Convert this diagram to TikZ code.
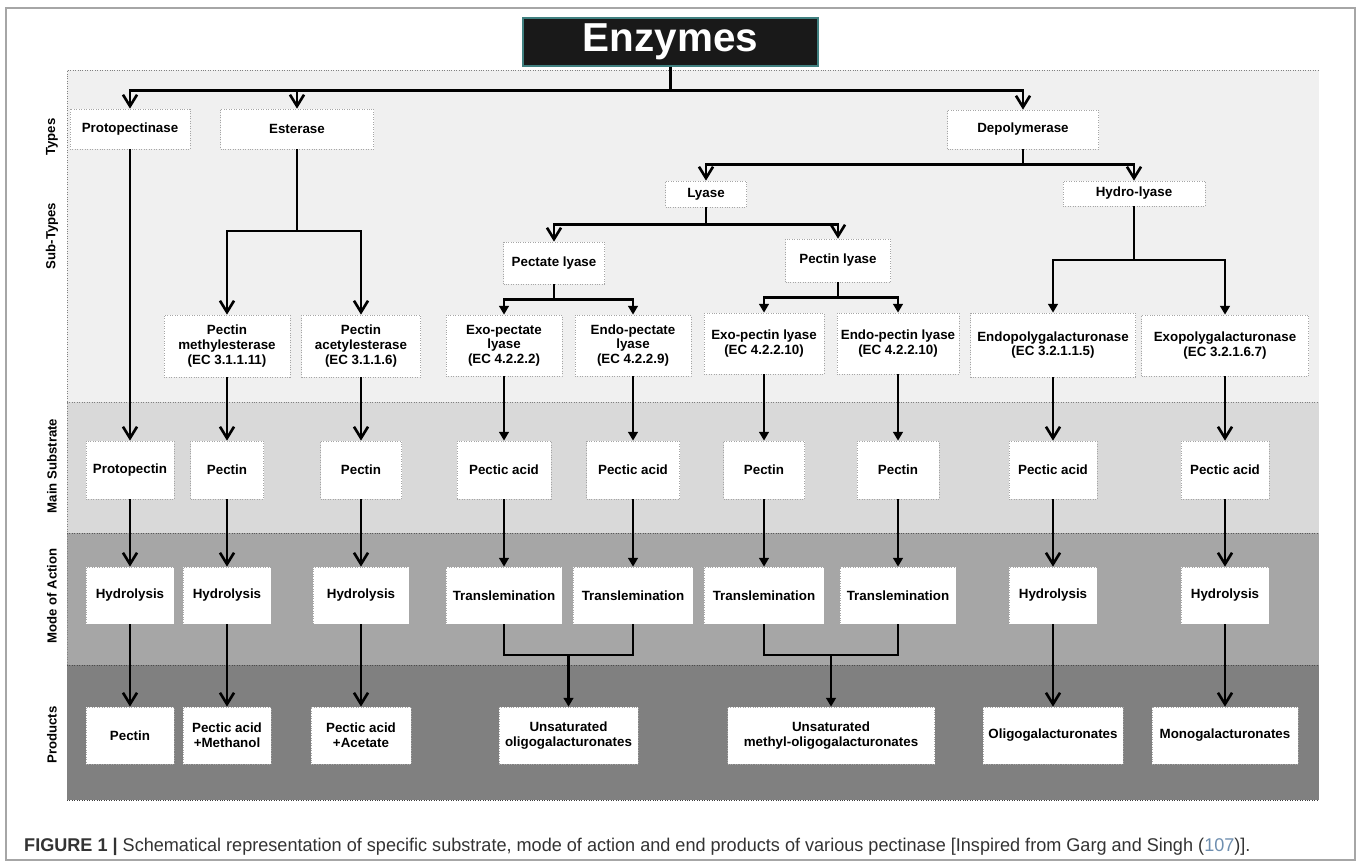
\documentclass[tikz,border=0pt]{standalone}
\usepackage{fontspec}
\setmainfont{Liberation Sans}
\newfontfamily\capfont[FakeStretch=0.98]{Liberation Sans}
\usepackage{xcolor}
\usetikzlibrary{arrows.meta}

\definecolor{bandA}{HTML}{F0F0F0}
\definecolor{bandB}{HTML}{D9D9D9}
\definecolor{bandC}{HTML}{A6A6A6}
\definecolor{bandD}{HTML}{808080}
\definecolor{refblue}{HTML}{6F8FB0}

\begin{document}
\begin{tikzpicture}[x=0.2mm, y=-0.2mm,
    bx/.style={draw=gray!70, densely dotted, fill=white, align=center, inner sep=1pt,
      font=\bfseries\fontsize{7.6}{8.3}\selectfont},
    ln/.style={line width=1.6pt, solid, line join=miter},
    arr/.style={ln, -{Straight Barb[length=6.5pt, width=8pt, line width=1.5pt]}},
    arrs/.style={ln, -{Triangle[length=5pt, width=5.5pt]}},
    lbl/.style={rotate=90, font=\bfseries\fontsize{7.5}{9}\selectfont}]
  \useasboundingbox (0,0) rectangle (1358,866);
  \draw[gray!70, line width=0.8pt] (6,8) rectangle (1355,860);

  % bands
  \fill[bandA] (67,70) rectangle (1319,402);
  \fill[bandB] (67,402) rectangle (1319,533);
  \fill[bandC] (67,533) rectangle (1319,665);
  \fill[bandD] (67,665) rectangle (1319,800);
  \draw[gray, densely dotted] (67,800) -- (67,70) -- (1319,70);
  \draw[gray, densely dotted] (67,402) -- (1319,402);
  \draw[gray!70!black, densely dotted] (67,533) -- (1319,533);
  \draw[gray!60!black, densely dotted] (67,665) -- (1319,665);
  \draw[gray!50!black, densely dotted] (67,800) -- (1319,800);

  \node[lbl] (lt) at (52,137) {Types};
  \node[lbl] (ls) at (52,236) {Sub-Types};
  \node[lbl] (lm) at (52,466) {Main Substrate};
  \node[lbl] (la) at (52,596) {Mode of Action};
  \node[lbl] (lp) at (52,735) {Products};

  \node[fill=black!90, draw=teal!50!gray, line width=0.8pt, minimum width=59mm, minimum height=8mm,
    text=white, font=\bfseries\fontsize{23}{24}\selectfont] (enz) at (670.5,42) {Enzymes};

  % types and sub-types
  \node[bx, minimum width=24mm, minimum height=8mm] (proto) at (130,129) {Protopectinase};
  \node[bx, minimum width=30.6mm, minimum height=8mm] (ester) at (297,129) {Esterase};
  \node[bx, minimum width=30.2mm, minimum height=7.8mm] (depol) at (1023,129.5) {Depolymerase};
  \node[bx, minimum width=16.2mm, minimum height=5.2mm] (lyase) at (706,194) {Lyase};
  \node[bx, minimum width=28.4mm, minimum height=5mm] (hlyase) at (1134,193.5) {Hydro-lyase};
  \node[bx, minimum width=20.2mm, minimum height=8.4mm] (ptlyase) at (554,263) {Pectate lyase};
  \node[bx, minimum width=21mm, minimum height=8.6mm] (pnlyase) at (838,260.5) {Pectin lyase};

  \node[bx, minimum width=25.2mm, minimum height=12.4mm] (pme) at (227,346) {Pectin\\methylesterase\\(EC 3.1.1.11)};
  \node[bx, minimum width=23.8mm, minimum height=12.4mm] (pae) at (361,346) {Pectin\\acetylesterase\\(EC 3.1.1.6)};
  \node[bx, minimum width=23.2mm, minimum height=12.2mm] (exopt) at (504,345.5) {Exo-pectate\\lyase\\(EC 4.2.2.2)};
  \node[bx, minimum width=23.2mm, minimum height=12.2mm] (endopt) at (633,345.5) {Endo-pectate\\lyase\\(EC 4.2.2.9)};
  \node[bx, minimum width=24mm, minimum height=12.2mm] (exopn) at (764,343.5) {Exo-pectin lyase\\(EC 4.2.2.10)};
  \node[bx, minimum width=24.4mm, minimum height=12.2mm] (endopn) at (898,343.5) {Endo-pectin lyase\\(EC 4.2.2.10)};
  \node[bx, minimum width=33mm, minimum height=12.8mm] (endopg) at (1053,345) {Endopolygalacturonase\\(EC 3.2.1.1.5)};
  \node[bx, minimum width=33.4mm, minimum height=12.2mm] (exopg) at (1225,345.5) {Exopolygalacturonase\\(EC 3.2.1.6.7)};

  % main substrate
  \node[bx, minimum width=17.6mm, minimum height=11.6mm] (s1) at (130,470) {Protopectin};
  \node[bx, minimum width=14.6mm, minimum height=11.6mm] (s2) at (227,470) {Pectin};
  \node[bx, minimum width=16.2mm, minimum height=11.6mm] (s3) at (361,470) {Pectin};
  \node[bx, minimum width=18.8mm, minimum height=11.6mm] (s4) at (504,470) {Pectic acid};
  \node[bx, minimum width=18.6mm, minimum height=11.6mm] (s5) at (633,470) {Pectic acid};
  \node[bx, minimum width=16.2mm, minimum height=11.6mm] (s6) at (764,470) {Pectin};
  \node[bx, minimum width=16.4mm, minimum height=11.6mm] (s7) at (898,470) {Pectin};
  \node[bx, minimum width=17.6mm, minimum height=11.6mm] (s8) at (1053,470) {Pectic acid};
  \node[bx, minimum width=17.6mm, minimum height=11.6mm] (s9) at (1225,470) {Pectic acid};

  % mode of action
  \node[bx, minimum width=17.6mm, minimum height=11.4mm] (m1) at (130,595.5) {Hydrolysis};
  \node[bx, minimum width=17.6mm, minimum height=11.4mm] (m2) at (227,595.5) {Hydrolysis};
  \node[bx, minimum width=19.2mm, minimum height=11.4mm] (m3) at (361,595.5) {Hydrolysis};
  \node[bx, minimum width=23.2mm, minimum height=11.4mm] (m4) at (504,595.5) {Translemination};
  \node[bx, minimum width=24mm, minimum height=11.4mm] (m5) at (633,595.5) {Translemination};
  \node[bx, minimum width=24mm, minimum height=11.4mm] (m6) at (764,595.5) {Translemination};
  \node[bx, minimum width=23.2mm, minimum height=11.4mm] (m7) at (898,595.5) {Translemination};
  \node[bx, minimum width=17.6mm, minimum height=11.4mm] (m8) at (1053,595.5) {Hydrolysis};
  \node[bx, minimum width=17.6mm, minimum height=11.4mm] (m9) at (1225,595.5) {Hydrolysis};

  % products
  \node[bx, minimum width=17.6mm, minimum height=11.4mm] (p1) at (130,735.5) {Pectin};
  \node[bx, minimum width=17.6mm, minimum height=11.4mm] (p2) at (227,735.5) {Pectic acid\\+Methanol};
  \node[bx, minimum width=20mm, minimum height=11.4mm] (p3) at (361,735.5) {Pectic acid\\+Acetate};
  \node[bx, minimum width=27.8mm, minimum height=11.4mm] (p4) at (568.5,735.5) {Unsaturated\\oligogalacturonates};
  \node[bx, minimum width=41.4mm, minimum height=11.4mm] (p5) at (831,735.5) {Unsaturated\\methyl-oligogalacturonates};
  \node[bx, minimum width=28mm, minimum height=11.4mm] (p6) at (1053,735.5) {Oligogalacturonates};
  \node[bx, minimum width=29.2mm, minimum height=11.4mm] (p7) at (1225,735.5) {Monogalacturonates};

  % tree connectors
  \draw[ln] (enz.south) -- ++(0,24) coordinate (j0);
  \draw[arr] (j0) -| (proto.north);
  \draw[arr] (j0) -| (ester.north);
  \draw[arr] (j0) -| (depol.north);
  \draw[ln] (depol.south) -- ++(0,15) coordinate (jd);
  \draw[arr] (jd) -| (lyase.north);
  \draw[arr] (jd) -| (hlyase.north);
  \draw[ln] (lyase.south) -- ++(0,17) coordinate (jl);
  \draw[arr] (jl) -| (ptlyase.north);
  \draw[arr] (jl) -| (pnlyase.north);
  \draw[ln] (ester.south) -- (297,231) coordinate (je);
  \draw[arr] (je) -| (pme.north);
  \draw[arr] (je) -| (pae.north);
  \draw[ln] (ptlyase.south) -- ++(0,15) coordinate (jpt);
  \draw[arrs] (jpt) -| (exopt.north);
  \draw[arrs] (jpt) -| (endopt.north);
  \draw[ln] (pnlyase.south) -- ++(0,15) coordinate (jpn);
  \draw[arrs] (jpn) -| (exopn.north);
  \draw[arrs] (jpn) -| (endopn.north);
  \draw[ln] (hlyase.south) -- (1134,260) coordinate (jh);
  \draw[arrs] (jh) -| (endopg.north);
  \draw[arrs] (jh) -| (exopg.north);

  % columns
  \draw[arr] (proto) -- (s1);
  \draw[arr] (pme) -- (s2);
  \draw[arr] (pae) -- (s3);
  \draw[arrs] (exopt) -- (s4);
  \draw[arrs] (endopt) -- (s5);
  \draw[arrs] (exopn) -- (s6);
  \draw[arrs] (endopn) -- (s7);
  \draw[arr] (endopg) -- (s8);
  \draw[arr] (exopg) -- (s9);
  \draw[arr] (s1) -- (m1);
  \draw[arr] (s2) -- (m2);
  \draw[arr] (s3) -- (m3);
  \draw[arrs] (s4) -- (m4);
  \draw[arrs] (s5) -- (m5);
  \draw[arrs] (s6) -- (m6);
  \draw[arrs] (s7) -- (m7);
  \draw[arr] (s8) -- (m8);
  \draw[arr] (s9) -- (m9);
  \draw[arr] (m1) -- (p1);
  \draw[arr] (m2) -- (p2);
  \draw[arr] (m3) -- (p3);
  \draw[arr] (m8) -- (p6);
  \draw[arr] (m9) -- (p7);
  \coordinate (j4) at (568.5,655);
  \coordinate (j5) at (831,655);
  \draw[ln] (m4.south) |- (j4) -| (m5.south);
  \draw[arrs] (j4) -- (p4);
  \draw[ln] (m6.south) |- (j5) -| (m7.south);
  \draw[arrs] (j5) -- (p5);

  \node[anchor=west, text=black!80, font=\capfont\fontsize{10.5}{12}\selectfont] (cap) at (18,847)
    {{\bfseries FIGURE 1 |} Schematical representation of specific substrate, mode of action and end products of various pectinase [Inspired from Garg and Singh ({\color{refblue}107})].};
\end{tikzpicture}
\end{document}
